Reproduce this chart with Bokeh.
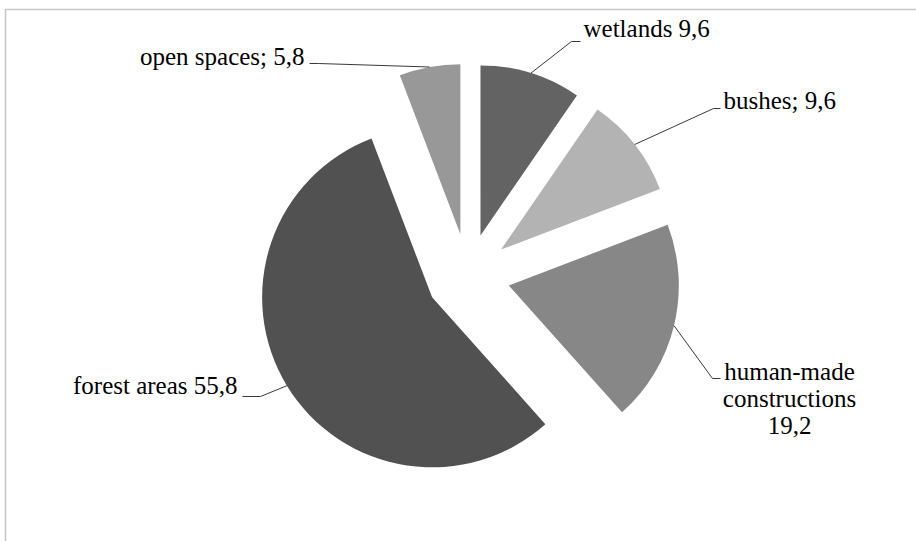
import math
from bokeh.plotting import figure
from bokeh.models import Range1d
from bokeh.core.properties import value
from bokeh.embed import file_html
from bokeh.resources import INLINE

# ---- data ----
categories = ["wetlands", "bushes", "human-made constructions", "forest areas", "open spaces"]
shares = [9.6, 9.6, 19.2, 55.8, 5.8]
labels = ["wetlands 9,6", "bushes; 9,6", "human-made\nconstructions\n19,2", "forest areas 55,8", "open spaces; 5,8"]
colors = ["#636363", "#b3b3b3", "#878787", "#515151", "#989898"]

# ---- layout (pixel coordinates, y downwards) ----
W, H = 916, 541
CX, CY = 467.5, 275.0      # pie centre
R = 170.0                  # radius
EXPLODE = 42.0             # explosion distance
# label anchor (x, first baseline y), alignment, elbow point, end of horizontal stub
label_pos = [(583, 28), (723, 100), (789, 371), (237, 385), (304, 56)]
label_align = ["left", "left", "center", "right", "right"]
elbows = [(571, 41), (713, 108), (712, 378), (260, 396), (318, 63)]
stubs = [(580, 41), (720, 108), (720, 378), (242, 396), (309, 63)]
LINE_SPACING = 27
FONT = "Liberation Serif"
FONT_SIZE = "25px"


def Y(yp):
    return H - yp


p = figure(width=W, height=H, output_backend="svg", toolbar_location=None,
           x_range=Range1d(0, W), y_range=Range1d(0, H), min_border=0)
p.axis.visible = False
p.grid.visible = False
p.outline_line_color = None
p.background_fill_color = "white"
p.border_fill_color = "white"

# chart-area border (top and left visible)
p.line([5, 5, W], [Y(H), Y(9), Y(9)], line_color="#c6c6c6", line_width=1.5)

total = sum(shares)
cum = 0.0
for i, v in enumerate(shares):
    a1 = cum / total * 360.0
    a2 = (cum + v) / total * 360.0
    cum += v
    mid = math.radians((a1 + a2) / 2)
    ox = CX + EXPLODE * math.sin(mid)
    oy = Y(CY) + EXPLODE * math.cos(mid)
    p.wedge(x=[ox], y=[oy], radius=R,
            start_angle=[math.radians(90 - a2)], end_angle=[math.radians(90 - a1)],
            fill_color=colors[i], line_color=None)
    # leader line from slice edge (bisector) to the label
    ax = ox + R * math.sin(mid)
    ay = oy + R * math.cos(mid)
    ex, ey = elbows[i]
    sx, sy = stubs[i]
    p.line([ax, ex, sx], [ay, Y(ey), Y(sy)], line_color="#3a3a3a", line_width=1)
    # label
    lx, ly = label_pos[i]
    for j, line in enumerate(labels[i].split("\n")):
        p.text(x=[lx], y=[Y(ly + j * LINE_SPACING)], text=[line],
               text_font=value(FONT), text_font_size=FONT_SIZE,
               text_align=label_align[i], text_baseline="alphabetic",
               text_color="black")

open("out.html", "w").write(file_html(p, INLINE))
